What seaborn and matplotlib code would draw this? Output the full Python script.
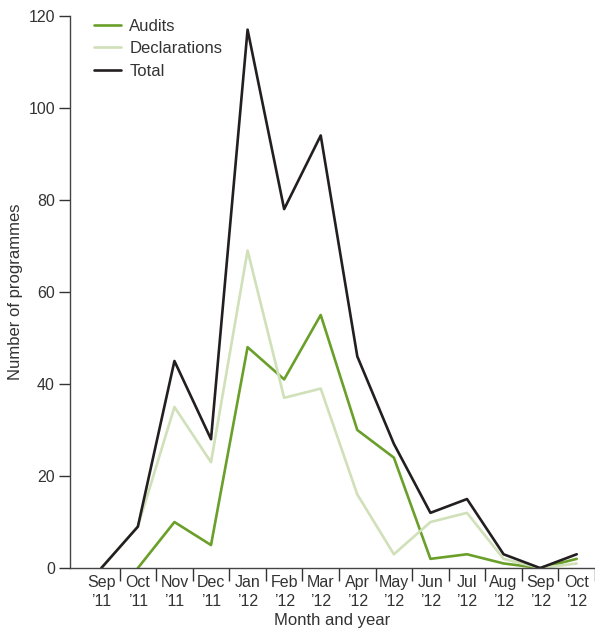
import numpy as np
import pandas as pd
import seaborn as sns
import matplotlib.pyplot as plt

# Monthly number of programmes, Sep '11 to Oct '12
months = ["Sep\n\u201911", "Oct\n\u201911", "Nov\n\u201911", "Dec\n\u201911", "Jan\n\u201912",
          "Feb\n\u201912", "Mar\n\u201912", "Apr\n\u201912", "May\n\u201912", "Jun\n\u201912",
          "Jul\n\u201912", "Aug\n\u201912", "Sep\n\u201912", "Oct\n\u201912"]
audits = [np.nan, 0, 10, 5, 48, 41, 55, 30, 24, 2, 3, 1, 0, 2]
declarations = [0, 9, 35, 23, 69, 37, 39, 16, 3, 10, 12, 2, 0, 1]
total = [0, 9, 45, 28, 117, 78, 94, 46, 27, 12, 15, 3, 0, 3]

df = pd.DataFrame({
    "pos": list(range(len(months))) * 3,
    "value": audits + declarations + total,
    "series": ["Audits"] * 14 + ["Declarations"] * 14 + ["Total"] * 14,
})

sns.set_style("white")
plt.rcParams["font.family"] = ["Liberation Sans", "DejaVu Sans"]

fig = plt.figure(figsize=(5.95, 6.34), dpi=100)
ax = fig.add_axes([0.118, 0.104, 0.882, 0.871])

palette = {"Audits": "#6a9f2a", "Declarations": "#d0e0b8", "Total": "#231f20"}
sns.lineplot(data=df, x="pos", y="value", hue="series", palette=palette,
             linewidth=1.9, ax=ax, legend=True)

ax.set_xlim(-0.85, 13.5)
ax.set_ylim(0, 120)
ax.set_yticks(range(0, 121, 20))
ax.set_xticks(range(len(months)))
ax.set_xticklabels(months, fontsize=11.5, color="#333333", linespacing=1.35)
ax.set_xticks(np.arange(0.5, 13.6, 1), minor=True)
ax.tick_params(axis="x", which="major", bottom=False, length=0, pad=5)
ax.tick_params(axis="x", which="minor", bottom=True, length=9, width=1,
               color="#333333", direction="out")
ax.tick_params(axis="y", length=8, width=1, color="#333333", labelsize=11.5,
               labelcolor="#333333", left=True, pad=3)

for side in ["top", "right"]:
    ax.spines[side].set_visible(False)
for side in ["left", "bottom"]:
    ax.spines[side].set_color("#444444")
    ax.spines[side].set_linewidth(1)

ax.set_xlabel("Month and year", fontsize=12, color="#333333", labelpad=3)
ax.set_ylabel("Number of programmes", fontsize=12, color="#333333", labelpad=4)

leg = ax.legend(loc="upper left", bbox_to_anchor=(0.046, 0.995), frameon=False,
                fontsize=12, handlelength=1.6, handletextpad=0.5,
                labelspacing=0.45, borderaxespad=0, borderpad=0)
for t in leg.get_texts():
    t.set_color("#333333")

plt.savefig("out.png", dpi=100)
